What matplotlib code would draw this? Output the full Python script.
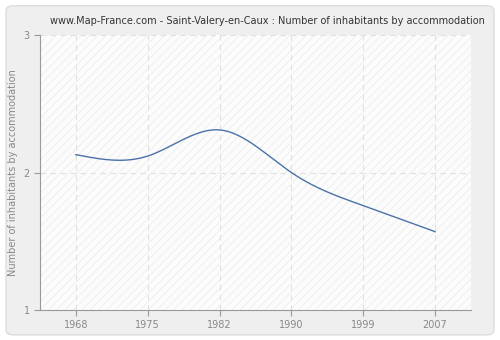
import numpy as np
import matplotlib
matplotlib.use("Agg")
import matplotlib.pyplot as plt
from matplotlib.patches import FancyBboxPatch

years = ["1968", "1975", "1982", "1990", "1999", "2007"]
inhabitants = [2.13, 2.12, 2.31, 2.00, 1.76, 1.57]
y_ticks = [1, 2, 3]


def natural_spline(x, y, n=300):
    # plain natural cubic spline, to get the smooth curve of the original
    x = np.asarray(x, float)
    y = np.asarray(y, float)
    k = len(x)
    h = np.diff(x)
    A = np.zeros((k, k))
    b = np.zeros(k)
    A[0, 0] = A[-1, -1] = 1
    for i in range(1, k - 1):
        A[i, i - 1] = h[i - 1]
        A[i, i] = 2 * (h[i - 1] + h[i])
        A[i, i + 1] = h[i]
        b[i] = 6 * ((y[i + 1] - y[i]) / h[i] - (y[i] - y[i - 1]) / h[i - 1])
    m = np.linalg.solve(A, b)
    xs = np.linspace(x[0], x[-1], n)
    idx = np.clip(np.searchsorted(x, xs) - 1, 0, k - 2)
    t0 = x[idx]
    t1 = x[idx + 1]
    hh = t1 - t0
    ys = (m[idx] * (t1 - xs) ** 3 / (6 * hh) + m[idx + 1] * (xs - t0) ** 3 / (6 * hh)
          + (y[idx] / hh - m[idx] * hh / 6) * (t1 - xs)
          + (y[idx + 1] / hh - m[idx + 1] * hh / 6) * (xs - t0))
    return xs, ys


plt.rcParams["hatch.linewidth"] = 0.4

fig = plt.figure(figsize=(5, 3.4), dpi=100)
fig.patch.set_facecolor("white")
bg = FancyBboxPatch((0.012, 0.015), 0.976, 0.968, boxstyle="round,pad=0,rounding_size=0.015",
                    transform=fig.transFigure, facecolor="#efefef", edgecolor="#dddddd", lw=1,
                    zorder=-10)
fig.add_artist(bg)

ax = fig.add_axes([0.08, 0.088, 0.862, 0.809])
ax.set_facecolor("#fcfcfc")
ax.patch.set_hatch("////")
ax.patch.set_edgecolor("#e6e6e6")
ax.patch.set_linewidth(0)

pos = np.arange(len(years))
xs, ys = natural_spline(pos, inhabitants)
ax.plot(xs, ys, color="#4a72a8", lw=1)

ax.set_xlim(-0.5, 5.5)
ax.set_ylim(1, 3)
ax.set_xticks(pos)
ax.set_xticklabels(years)
ax.set_yticks(y_ticks)

ax.grid(True, color="#e0e0e0", linestyle=(0, (5, 4)), lw=0.8)
ax.set_axisbelow(True)

for s in ["top", "right"]:
    ax.spines[s].set_visible(False)
for s in ["left", "bottom"]:
    ax.spines[s].set_color("#999999")
ax.tick_params(colors="#999999", labelcolor="#888888", labelsize=7, length=4, width=0.8)

ax.set_ylabel("Number of inhabitants by accommodation", color="#888888", fontsize=7)
ax.set_title("www.Map-France.com - Saint-Valery-en-Caux : Number of inhabitants by accommodation",
             color="#333333", fontsize=7, x=0.527, pad=8)

fig.savefig("out.png", dpi=100)
